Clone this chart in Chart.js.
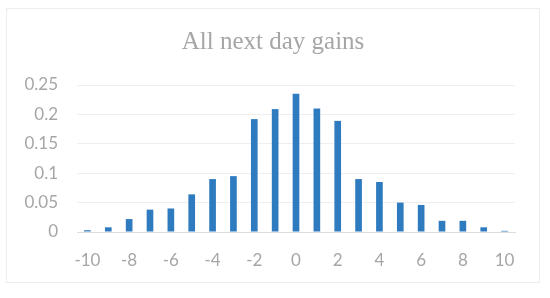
<!DOCTYPE html>
<html>
<head>
<meta charset="utf-8">
<script src="https://cdn.jsdelivr.net/npm/chart.js@4"></script>
<style>
  html, body { margin: 0; padding: 0; background: #ffffff; }
  #frame {
    position: absolute; left: 6px; top: 8px;
    width: 532px; height: 273px;
    border: 1px solid #EDEDED;
  }
</style>
</head>
<body>
<div id="frame"><canvas id="gainsChart"></canvas></div>
<script>
// Données
const gains = [-10, -9, -8, -7, -6, -5, -4, -3, -2, -1, 0, 1, 2, 3, 4, 5, 6, 7, 8, 9, 10];
const frequencies = [0.003, 0.008, 0.022, 0.038, 0.040, 0.064, 0.090, 0.095, 0.192, 0.209,
                     0.235, 0.210, 0.189, 0.090, 0.085, 0.050, 0.046, 0.019, 0.019, 0.008, 0.002];
const yTickLabels = ['0', '0.05', '0.1', '0.15', '0.2', '0.25'];

const grey = '#A6A6A6';
const tickFont = { family: "Lato, 'Open Sans', sans-serif", size: 17 };

new Chart(document.getElementById('gainsChart'), {
    type: 'bar',
    data: {
        labels: gains.map(String),
        datasets: [{
            data: frequencies,
            backgroundColor: '#2E7BC0',
            categoryPercentage: 1,
            barPercentage: 0.32
        }]
    },
    options: {
        responsive: true,
        maintainAspectRatio: false,
        animation: false,
        layout: { padding: { left: 0, right: 0, top: 0, bottom: 13 } },
        plugins: {
            legend: { display: false },
            tooltip: { enabled: false },
            title: {
                display: true,
                text: 'All next day gains',
                color: grey,
                font: { family: "'Liberation Serif', 'DejaVu Serif', serif", size: 25, weight: 'normal' },
                padding: { top: 18, bottom: 28 }
            }
        },
        scales: {
            x: {
                // hauteur fixe de l'axe (Chart.js compte le padding deux fois)
                afterFit: function (scale) { scale.height = 37; },
                grid: { display: false, drawTicks: false },
                border: { display: true, color: '#DCDCDC' },
                ticks: {
                    color: grey,
                    font: tickFont,
                    padding: 18,
                    autoSkip: false,
                    maxRotation: 0,
                    // une étiquette sur deux, comme dans Excel
                    callback: function (value, index) {
                        return gains[index] % 2 === 0 ? String(gains[index]) : '';
                    }
                }
            },
            y: {
                min: 0,
                max: 0.25,
                afterFit: function (scale) { scale.width = 70; },
                grid: { color: '#EFEFEF', drawTicks: false },
                border: { display: false },
                ticks: {
                    stepSize: 0.05,
                    color: grey,
                    font: tickFont,
                    padding: 19,
                    callback: function (value, index) {
                        return yTickLabels[index];
                    }
                }
            },
            // axe vide à droite : sert juste de marge, le titre reste centré sur tout le cadre
            marge: {
                position: 'right',
                afterFit: function (scale) { scale.width = 24; },
                grid: { display: false, drawTicks: false },
                border: { display: false },
                ticks: { display: false }
            }
        }
    }
});
</script>
</body>
</html>
